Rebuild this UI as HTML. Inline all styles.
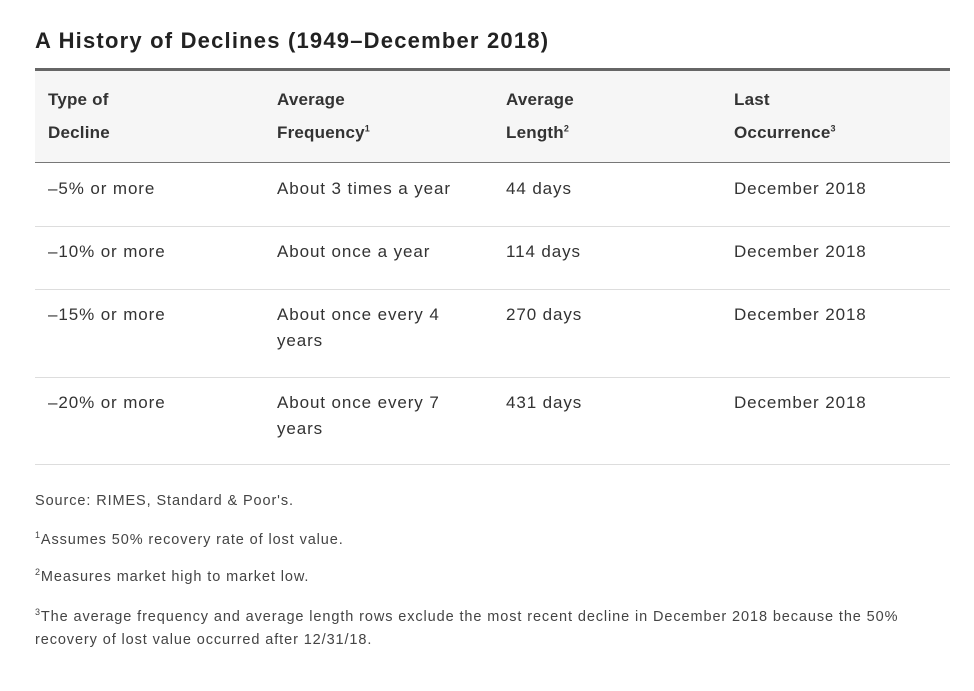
<!DOCTYPE html>
<html><head><style>
body{margin:0;width:974px;height:691px;background:#fff;font-family:"Liberation Sans",sans-serif;color:#333;position:relative;overflow:hidden}
.a{position:absolute;white-space:nowrap}
.t{font-size:17px;line-height:26px;letter-spacing:0.9px}
.h{font-size:17px;font-weight:bold;color:#333;letter-spacing:0.2px}
.f{font-size:14.5px;color:#444;letter-spacing:0.9px}
.ln{position:absolute;left:35px;width:915px;height:1px;background:#ddd}
sup{font-size:9px}
</style></head><body>
<div class="a" style="left:35px;top:28px;font-size:22px;font-weight:bold;color:#222;letter-spacing:1.2px">A History of Declines (1949–December 2018)</div>
<div style="position:absolute;left:35px;top:68px;width:915px;height:3px;background:#666"></div>
<div style="position:absolute;left:35px;top:71px;width:915px;height:91px;background:#f6f6f6"></div>
<div style="position:absolute;left:35px;top:162px;width:915px;height:1px;background:#777"></div>
<div class="a h" style="left:48px;top:90px">Type of</div>
<div class="a h" style="left:48px;top:123px">Decline</div>
<div class="a h" style="left:277px;top:90px">Average</div>
<div class="a h" style="left:277px;top:123px">Frequency<sup>1</sup></div>
<div class="a h" style="left:506px;top:90px">Average</div>
<div class="a h" style="left:506px;top:123px">Length<sup>2</sup></div>
<div class="a h" style="left:734px;top:90px">Last</div>
<div class="a h" style="left:734px;top:123px">Occurrence<sup>3</sup></div>

<div class="a t" style="left:48px;top:176px">–5% or more</div>
<div class="a t" style="left:277px;top:176px">About 3 times a year</div>
<div class="a t" style="left:506px;top:176px">44 days</div>
<div class="a t" style="left:734px;top:176px">December 2018</div>
<div class="ln" style="top:226px"></div>

<div class="a t" style="left:48px;top:239px">–10% or more</div>
<div class="a t" style="left:277px;top:239px">About once a year</div>
<div class="a t" style="left:506px;top:239px">114 days</div>
<div class="a t" style="left:734px;top:239px">December 2018</div>
<div class="ln" style="top:289px"></div>

<div class="a t" style="left:48px;top:302px">–15% or more</div>
<div class="a t" style="left:277px;top:302px">About once every 4<br>years</div>
<div class="a t" style="left:506px;top:302px">270 days</div>
<div class="a t" style="left:734px;top:302px">December 2018</div>
<div class="ln" style="top:377px"></div>

<div class="a t" style="left:48px;top:390px">–20% or more</div>
<div class="a t" style="left:277px;top:390px">About once every 7<br>years</div>
<div class="a t" style="left:506px;top:390px">431 days</div>
<div class="a t" style="left:734px;top:390px">December 2018</div>
<div class="ln" style="top:464px"></div>

<div class="a f" style="left:35px;top:493px">Source: RIMES, Standard &amp; Poor's.</div>
<div class="a f" style="left:35px;top:530px"><sup>1</sup>Assumes 50% recovery rate of lost value.</div>
<div class="a f" style="left:35px;top:567px"><sup>2</sup>Measures market high to market low.</div>
<div class="a f" style="left:35px;top:601px;line-height:23px"><sup>3</sup>The average frequency and average length rows exclude the most recent decline in December 2018 because the 50%<br>recovery of lost value occurred after 12/31/18.</div>
</body></html>
